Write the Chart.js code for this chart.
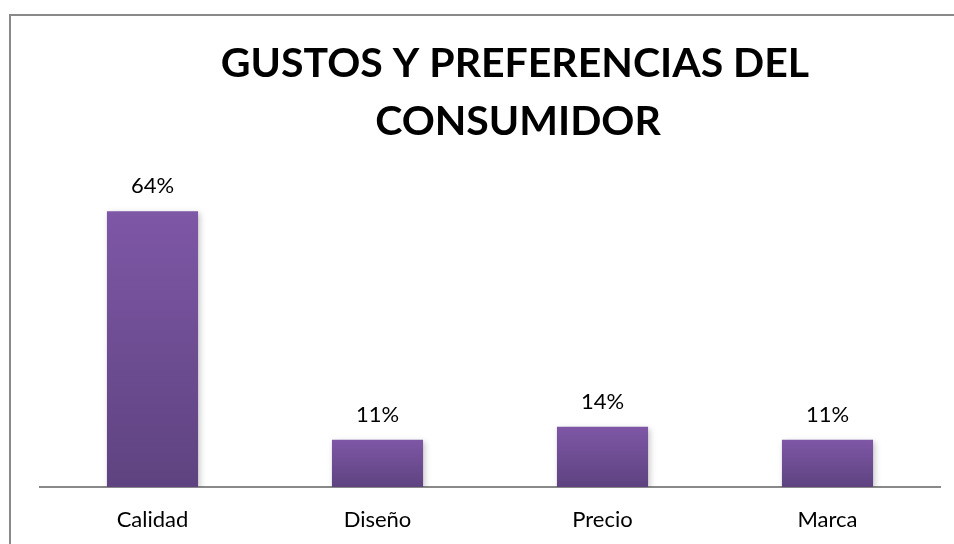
<!DOCTYPE html>
<html lang="es">
<head>
  <meta charset="UTF-8">
  <title>Gustos y preferencias del consumidor</title>
  <script src="https://cdn.jsdelivr.net/npm/chart.js"></script>
  <style>
    html, body {
      margin: 0;
      padding: 0;
      background: #fff;
    }
    #wrap {
      width: 954px;
      height: 544px;
    }
  </style>
</head>
<body>
  <div id="wrap"><canvas id="prefChart" width="954" height="544"></canvas></div>

  <script>
    // datos
    const categories = ['Calidad', 'Diseño', 'Precio', 'Marca'];
    const percentages = [64, 11, 14, 11];
    const titleLines = ['GUSTOS Y PREFERENCIAS DEL', 'CONSUMIDOR'];

    const FONT = 'Lato, "Open Sans", sans-serif';

    // gradiente vertical por barra (claro arriba, oscuro abajo)
    function barGradient(context) {
      const chart = context.chart;
      if (!chart.chartArea) return '#6f4c96';
      const y = chart.scales.y;
      const top = y.getPixelForValue(context.raw);
      const bottom = y.getPixelForValue(0);
      const g = chart.ctx.createLinearGradient(0, top, 0, bottom);
      g.addColorStop(0, '#7e57a6');
      g.addColorStop(1, '#5e4380');
      return g;
    }

    // marco del grafico (solo se ve arriba y a la izquierda) + titulo
    // el grafico original es mas ancho que la imagen, por eso el titulo
    // queda centrado a la derecha del area de barras
    const framePlugin = {
      id: 'frame',
      beforeDraw(chart) {
        const ctx = chart.ctx;
        ctx.save();
        ctx.strokeStyle = '#898989';
        ctx.lineWidth = 2;
        ctx.beginPath();
        ctx.moveTo(10, chart.height + 2);
        ctx.lineTo(10, 15);
        ctx.lineTo(chart.width + 2, 15);
        ctx.stroke();

        ctx.fillStyle = '#000';
        ctx.font = 'bold 41px ' + FONT;
        ctx.textAlign = 'center';
        ctx.textBaseline = 'alphabetic';
        ctx.fillText(titleLines[0], 515, 77);
        ctx.fillText(titleLines[1], 518, 135);
        ctx.restore();
      }
    };

    // sombra suave bajo las barras
    const shadowPlugin = {
      id: 'barShadow',
      beforeDatasetsDraw(chart) {
        const ctx = chart.ctx;
        ctx.save();
        ctx.shadowColor = 'rgba(0,0,0,0.22)';
        ctx.shadowBlur = 6;
        ctx.shadowOffsetX = 2;
        ctx.shadowOffsetY = 2;
      },
      afterDatasetsDraw(chart) {
        chart.ctx.restore();
      }
    };

    // etiquetas de valor encima de cada barra
    const valueLabels = {
      id: 'valueLabels',
      afterDatasetsDraw(chart) {
        const ctx = chart.ctx;
        const meta = chart.getDatasetMeta(0);
        ctx.save();
        ctx.fillStyle = '#000';
        ctx.font = '22px ' + FONT;
        ctx.textAlign = 'center';
        ctx.textBaseline = 'alphabetic';
        meta.data.forEach((bar, i) => {
          ctx.fillText(percentages[i] + '%', bar.x, bar.y - 18);
        });
        ctx.restore();
      }
    };

    const ctx = document.getElementById('prefChart').getContext('2d');
    new Chart(ctx, {
      type: 'bar',
      data: {
        labels: categories,
        datasets: [{
          data: percentages,
          backgroundColor: barGradient,
          borderWidth: 0,
          categoryPercentage: 1,
          barPercentage: 0.405
        }]
      },
      options: {
        responsive: false,
        animation: false,
        layout: {
          padding: { top: 164, left: 40, right: 14, bottom: 11 }
        },
        plugins: {
          legend: { display: false },
          tooltip: { enabled: false },
          title: { display: false }
        },
        scales: {
          x: {
            grid: { display: false, drawTicks: false },
            border: { display: true, color: '#898989', width: 2 },
            ticks: {
              color: '#000',
              font: { family: FONT, size: 22 },
              padding: 20
            },
            afterFit(scale) {
              scale.height = 46;
            }
          },
          y: {
            display: false,
            min: 0,
            max: 75
          }
        }
      },
      plugins: [framePlugin, shadowPlugin, valueLabels]
    });
  </script>
</body>
</html>
